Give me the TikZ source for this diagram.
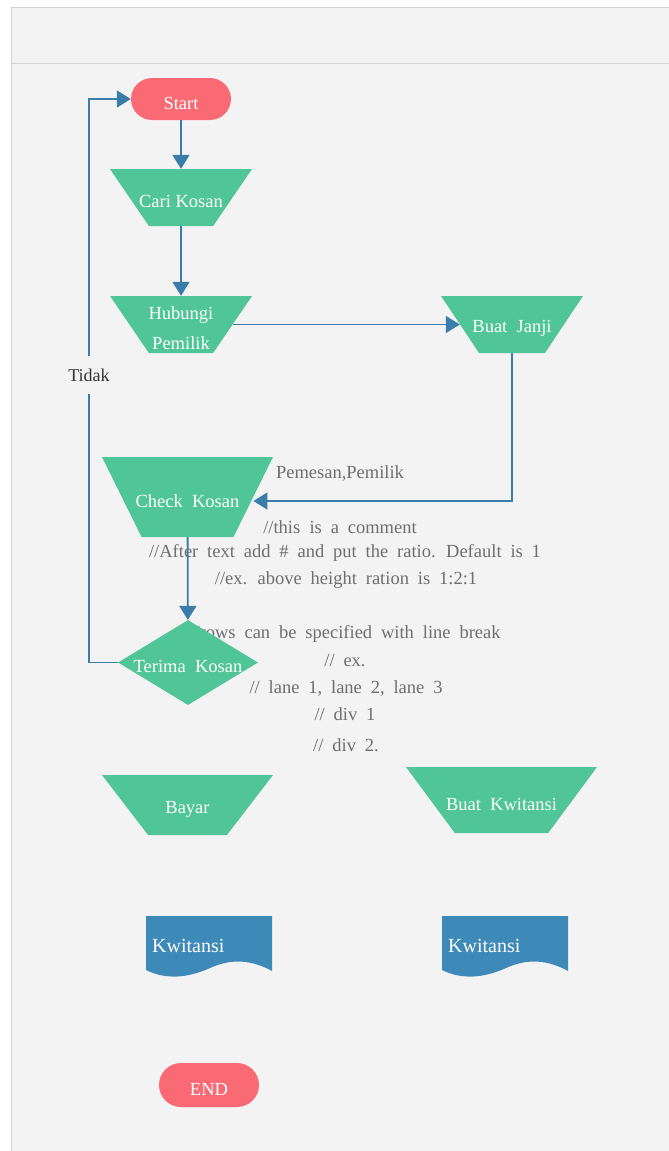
\documentclass[tikz,border=0pt]{standalone}
\usepackage{fontspec}
\setmainfont{Liberation Serif}
\usepackage{xcolor}
\usetikzlibrary{arrows.meta,shapes.geometric}
\definecolor{panelgray}{HTML}{F3F3F3}
\definecolor{framegray}{HTML}{D2D2D2}
\definecolor{flowgreen}{HTML}{50C597}
\definecolor{flowred}{HTML}{FA6A74}
\definecolor{flowblue}{HTML}{3A7DAA}
\definecolor{docblue}{HTML}{3D8AB9}
\definecolor{notegray}{HTML}{6E6E6E}
\begin{document}
\begin{tikzpicture}[x=1pt,y=-1pt,
    term/.style={fill=flowred, rounded corners=21pt, minimum width=100pt, minimum height=42pt, inner sep=0pt},
    proc/.style={trapezium, shape border rotate=180, trapezium stretches=true, fill=flowgreen, inner sep=1pt},
    lbl/.style={text=white, font=\fontsize{18.5}{22}\selectfont, yshift=-4pt},
    note/.style={text=notegray, font=\fontsize{18.5}{22}\selectfont, inner sep=0pt, execute at begin node={\spaceskip=0.48em\relax}},
    flow/.style={draw=flowblue, line width=1.8pt, -{Triangle[length=14pt,width=17pt]}},
    flowline/.style={draw=flowblue, line width=1.8pt}]
  \useasboundingbox (0,0) rectangle (669,1151);
  \fill[white] (0,0) rectangle (669,1151);
  \fill[panelgray] (11,7) rectangle (669,1151);
  \draw[framegray, line width=1pt] (11,1151) -- (11,7) -- (669,7);
  \draw[framegray, line width=1pt] (11,63) -- (669,63);

  \node[term, label={[lbl]center:Start}] (start) at (181,99) {};
  \node[proc, minimum width=142pt, minimum height=57pt, trapezium angle=58.8, label={[lbl]center:Cari Kosan}] (cari) at (181,197.5) {};
  \node[proc, minimum width=142pt, minimum height=57pt, trapezium angle=58.8, label={[lbl, align=center]center:Hubungi\\[8pt]Pemilik}] (hub) at (181,324.5) {};
  \node[proc, minimum width=142pt, minimum height=57pt, trapezium angle=60, label={[lbl]center:Buat\enspace Janji}] (janji) at (512,324.5) {};
  \node[proc, minimum width=171pt, minimum height=80pt, trapezium angle=66.7, label={[lbl]center:Check\enspace Kosan}] (check) at (187.5,497) {};

  \node[note] (pemilik) at (340,473) {Pemesan,Pemilik};
  \node[note] (c1) at (340,527) {//this\enspace is a comment};
  \node[note] (c2) at (345,553) {//After text add \# and put the ratio. Default is 1};
  \node[note] (c3) at (346,580) {//ex. above height ration is 1:2:1};
  \node[note] (c4) at (345,634) {//rows can be specified with line break};
  \node[note] (c5) at (345,661) {// ex.};
  \node[note] (c6) at (346,688) {// lane 1, lane 2, lane 3};
  \node[note] (c7) at (345,714) {// div 1};
  \node[note] (c8) at (346,745) {// div 2.};

  \node[diamond, fill=flowgreen, inner sep=1pt, minimum width=140pt, minimum height=85pt, label={[lbl]center:Terima\enspace Kosan}] (terima) at (188,662.5) {};
  \node[proc, minimum width=171pt, minimum height=60pt, trapezium angle=59.7, label={[lbl]center:Bayar}] (bayar) at (187.5,805) {};
  \node[proc, minimum width=191pt, minimum height=66pt, trapezium angle=62.4, label={[lbl]center:Buat\enspace Kwitansi}] (kwitansi) at (501.5,800) {};

  \fill[docblue] (146,916) -- (272,916) -- (272,971) .. controls (252,960) and (232,958) .. (210,968) .. controls (188,978) and (166,980) .. (146,970) -- cycle;
  \node[anchor=west, text=white, font=\fontsize{20}{24}\selectfont, inner sep=0pt] (kw1) at (152,946) {Kwitansi};
  \fill[docblue] (442,916) -- (568,916) -- (568,971) .. controls (548,960) and (528,958) .. (506,968) .. controls (484,978) and (462,980) .. (442,970) -- cycle;
  \node[anchor=west, text=white, font=\fontsize{20}{24}\selectfont, inner sep=0pt] (kw2) at (448,946) {Kwitansi};

  \node[term, minimum height=44pt, rounded corners=22pt, label={[lbl]center:END}] (end) at (209,1085) {};

  \node[fill=panelgray, text=black!80, font=\fontsize{18}{22}\selectfont, minimum height=38pt, inner sep=1pt] (tidak) at (89,375) {Tidak};

  \draw[flow] (start) -- (cari);
  \draw[flow] (cari) -- (hub);
  \draw[flow] (hub) -- (janji);
  \draw[flow] (janji) |- ([yshift=-4pt]check.east);
  \draw[flow] (check) -- (terima);
  \draw[flowline] (terima) -| (tidak);
  \draw[flow] (tidak) |- (start);
\end{tikzpicture}
\end{document}
